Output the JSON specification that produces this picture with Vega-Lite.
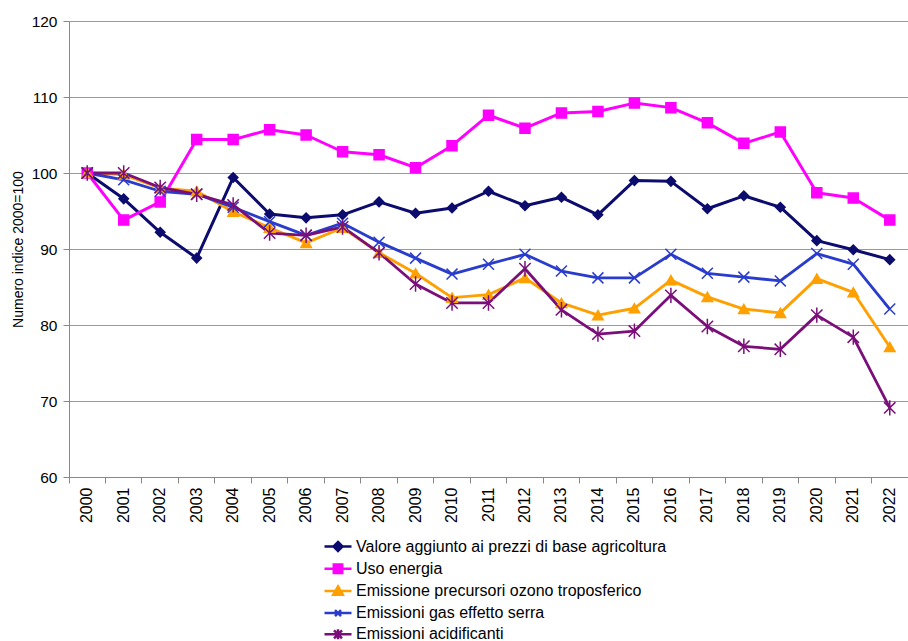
{
  "$schema": "https://vega.github.io/schema/vega-lite/v6.json",
  "width": 839,
  "height": 456,
  "autosize": {"type": "none"},
  "padding": {"left": 69, "top": 21, "right": 0, "bottom": 164},
  "background": "white",
  "config": {
    "font": "Liberation Sans",
    "view": {"stroke": null},
    "axis": {"labelFont": "Liberation Sans", "titleFont": "Liberation Sans", "labelColor": "black", "titleColor": "black", "titleFontWeight": "normal"},
    "legend": {"labelFont": "Liberation Sans"}
  },
  "data": {
    "values": [
      {"anno": "2000", "Valore aggiunto ai prezzi di base agricoltura": 100, "Uso energia": 100, "Emissione precursori ozono troposferico": 100, "Emissioni gas effetto serra": 100, "Emissioni acidificanti": 100},
      {"anno": "2001", "Valore aggiunto ai prezzi di base agricoltura": 96.6, "Uso energia": 93.8, "Emissione precursori ozono troposferico": 99.8, "Emissioni gas effetto serra": 99.1, "Emissioni acidificanti": 100},
      {"anno": "2002", "Valore aggiunto ai prezzi di base agricoltura": 92.2, "Uso energia": 96.2, "Emissione precursori ozono troposferico": 98.0, "Emissioni gas effetto serra": 97.6, "Emissioni acidificanti": 98.1},
      {"anno": "2003", "Valore aggiunto ai prezzi di base agricoltura": 88.8, "Uso energia": 104.4, "Emissione precursori ozono troposferico": 97.6, "Emissioni gas effetto serra": 97.2, "Emissioni acidificanti": 97.2},
      {"anno": "2004", "Valore aggiunto ai prezzi di base agricoltura": 99.4, "Uso energia": 104.4, "Emissione precursori ozono troposferico": 94.9, "Emissioni gas effetto serra": 95.5, "Emissioni acidificanti": 95.8},
      {"anno": "2005", "Valore aggiunto ai prezzi di base agricoltura": 94.6, "Uso energia": 105.7, "Emissione precursori ozono troposferico": 92.8, "Emissioni gas effetto serra": 93.6, "Emissioni acidificanti": 92.1},
      {"anno": "2006", "Valore aggiunto ai prezzi di base agricoltura": 94.1, "Uso energia": 105.0, "Emissione precursori ozono troposferico": 90.8, "Emissioni gas effetto serra": 91.8, "Emissioni acidificanti": 91.8},
      {"anno": "2007", "Valore aggiunto ai prezzi di base agricoltura": 94.5, "Uso energia": 102.8, "Emissione precursori ozono troposferico": 92.8, "Emissioni gas effetto serra": 93.4, "Emissioni acidificanti": 92.9},
      {"anno": "2008", "Valore aggiunto ai prezzi di base agricoltura": 96.2, "Uso energia": 102.4, "Emissione precursori ozono troposferico": 89.5, "Emissioni gas effetto serra": 90.9, "Emissioni acidificanti": 89.5},
      {"anno": "2009", "Valore aggiunto ai prezzi di base agricoltura": 94.7, "Uso energia": 100.7, "Emissione precursori ozono troposferico": 86.8, "Emissioni gas effetto serra": 88.8, "Emissioni acidificanti": 85.4},
      {"anno": "2010", "Valore aggiunto ai prezzi di base agricoltura": 95.4, "Uso energia": 103.6, "Emissione precursori ozono troposferico": 83.6, "Emissioni gas effetto serra": 86.7, "Emissioni acidificanti": 82.9},
      {"anno": "2011", "Valore aggiunto ai prezzi di base agricoltura": 97.6, "Uso energia": 107.6, "Emissione precursori ozono troposferico": 84.0, "Emissioni gas effetto serra": 88.0, "Emissioni acidificanti": 82.9},
      {"anno": "2012", "Valore aggiunto ai prezzi di base agricoltura": 95.7, "Uso energia": 105.9, "Emissione precursori ozono troposferico": 86.2, "Emissioni gas effetto serra": 89.3, "Emissioni acidificanti": 87.4},
      {"anno": "2013", "Valore aggiunto ai prezzi di base agricoltura": 96.8, "Uso energia": 107.9, "Emissione precursori ozono troposferico": 82.9, "Emissioni gas effetto serra": 87.1, "Emissioni acidificanti": 82.0},
      {"anno": "2014", "Valore aggiunto ai prezzi di base agricoltura": 94.5, "Uso energia": 108.1, "Emissione precursori ozono troposferico": 81.3, "Emissioni gas effetto serra": 86.2, "Emissioni acidificanti": 78.8},
      {"anno": "2015", "Valore aggiunto ai prezzi di base agricoltura": 99.0, "Uso energia": 109.2, "Emissione precursori ozono troposferico": 82.2, "Emissioni gas effetto serra": 86.2, "Emissioni acidificanti": 79.2},
      {"anno": "2016", "Valore aggiunto ai prezzi di base agricoltura": 98.9, "Uso energia": 108.6, "Emissione precursori ozono troposferico": 85.9, "Emissioni gas effetto serra": 89.3, "Emissioni acidificanti": 83.9},
      {"anno": "2017", "Valore aggiunto ai prezzi di base agricoltura": 95.3, "Uso energia": 106.6, "Emissione precursori ozono troposferico": 83.7, "Emissioni gas effetto serra": 86.8, "Emissioni acidificanti": 79.8},
      {"anno": "2018", "Valore aggiunto ai prezzi di base agricoltura": 97.0, "Uso energia": 103.9, "Emissione precursori ozono troposferico": 82.1, "Emissioni gas effetto serra": 86.3, "Emissioni acidificanti": 77.2},
      {"anno": "2019", "Valore aggiunto ai prezzi di base agricoltura": 95.5, "Uso energia": 105.4, "Emissione precursori ozono troposferico": 81.6, "Emissioni gas effetto serra": 85.8, "Emissioni acidificanti": 76.8},
      {"anno": "2020", "Valore aggiunto ai prezzi di base agricoltura": 91.1, "Uso energia": 97.4, "Emissione precursori ozono troposferico": 86.1, "Emissioni gas effetto serra": 89.4, "Emissioni acidificanti": 81.3},
      {"anno": "2021", "Valore aggiunto ai prezzi di base agricoltura": 89.9, "Uso energia": 96.7, "Emissione precursori ozono troposferico": 84.3, "Emissioni gas effetto serra": 88.0, "Emissioni acidificanti": 78.4},
      {"anno": "2022", "Valore aggiunto ai prezzi di base agricoltura": 88.6, "Uso energia": 93.8, "Emissione precursori ozono troposferico": 77.1, "Emissioni gas effetto serra": 82.1, "Emissioni acidificanti": 69.1}
    ]
  },
  "transform": [
    {"fold": ["Valore aggiunto ai prezzi di base agricoltura", "Uso energia", "Emissione precursori ozono troposferico", "Emissioni gas effetto serra", "Emissioni acidificanti"], "as": ["serie", "valore"]}
  ],
  "encoding": {
    "x": {"field": "anno", "type": "ordinal", "scale": {"type": "band", "paddingInner": 0, "paddingOuter": 0}},
    "y": {
      "field": "valore", "type": "quantitative",
      "scale": {"domain": [60, 120], "nice": false, "zero": false},
      "axis": {"values": [60, 70, 80, 90, 100, 110, 120], "title": "Numero indice 2000=100", "titleFontSize": 14, "titlePadding": 6, "labelFontSize": 15.5, "labelPadding": 6, "tickSize": 6, "tickColor": "#888", "domainColor": "#888", "gridColor": "#999", "gridWidth": 1.2, "grid": true}
    }
  },
  "layer": [
    {
      "mark": {"type": "line", "strokeJoin": "round"},
      "encoding": {
        "x": {"field": "anno", "type": "ordinal", "axis": {"orient": "bottom", "title": null, "labelAngle": -90, "labelFontSize": 16, "labelPadding": 10, "ticks": false, "domain": true, "domainColor": "#888", "grid": false}},
        "color": {
          "field": "serie", "type": "nominal", "sort": null,
          "scale": {"range": ["#0c0c6e", "#ff00ff", "#ffa000", "#2a3ccc", "#7a0f7a"]},
          "legend": {
            "title": null, "orient": "none", "legendX": 257.5, "legendY": 514, "symbolType": "stroke", "symbolSize": 400, "symbolStrokeWidth": 2.5, "labelFontSize": 16, "labelColor": "black", "labelLimit": 600, "labelOffset": 6.5, "rowPadding": 1.2, "padding": 0,
            "encode": {
              "symbols": {
                "update": {
                  "shape": {"signal": "datum.value === 'Valore aggiunto ai prezzi di base agricoltura' ? 'M-1.35,0L1.35,0M0,-0.45L0.45,0L0,0.45L-0.45,0Z' : datum.value === 'Uso energia' ? 'M-1.35,0L1.35,0M-0.42,-0.42L0.42,-0.42L0.42,0.42L-0.42,0.42Z' : datum.value === 'Emissione precursori ozono troposferico' ? 'M-1.35,0L1.35,0M0,-0.45L0.48,0.38L-0.48,0.38Z' : datum.value === 'Emissioni gas effetto serra' ? 'M-1.35,0L1.35,0M-0.3,-0.3L0.3,0.3M-0.3,0.3L0.3,-0.3' : 'M-1.35,0L1.35,0M-0.4,-0.4L0.4,0.4M-0.4,0.4L0.4,-0.4M0,-0.5L0,0.5'"},
                  "fill": {"signal": "datum.value === 'Emissioni gas effetto serra' || datum.value === 'Emissioni acidificanti' ? 'transparent' : scale('color', datum.value)"}
                }
              }
            }
          }
        },
        "strokeWidth": {
          "field": "serie", "type": "nominal",
          "scale": {"domain": ["Valore aggiunto ai prezzi di base agricoltura", "Uso energia", "Emissione precursori ozono troposferico", "Emissioni gas effetto serra", "Emissioni acidificanti"], "range": [3, 2.8, 3.5, 1.4, 3]},
          "legend": null
        }
      }
    },
    {
      "mark": {"type": "point", "filled": false, "strokeWidth": 1.5, "opacity": 1},
      "encoding": {
        "x": {"field": "anno", "type": "ordinal", "axis": {"orient": "bottom", "title": null, "labels": false, "ticks": true, "tickSize": 6, "tickColor": "#888", "bandPosition": 0, "domain": false, "grid": false}},
        "fill": {
          "field": "serie", "type": "nominal",
          "scale": {"domain": ["Valore aggiunto ai prezzi di base agricoltura", "Uso energia", "Emissione precursori ozono troposferico", "Emissioni gas effetto serra", "Emissioni acidificanti"], "range": ["#0c0c6e", "#ff00ff", "#ffa000", "transparent", "transparent"]},
          "legend": null
        },
        "stroke": {
          "field": "serie", "type": "nominal",
          "scale": {"domain": ["Valore aggiunto ai prezzi di base agricoltura", "Uso energia", "Emissione precursori ozono troposferico", "Emissioni gas effetto serra", "Emissioni acidificanti"], "range": ["#0c0c6e", "#ff00ff", "#ffa000", "#2a3ccc", "#7a0f7a"]},
          "legend": null
        },
        "shape": {
          "field": "serie", "type": "nominal",
          "scale": {"domain": ["Valore aggiunto ai prezzi di base agricoltura", "Uso energia", "Emissione precursori ozono troposferico", "Emissioni gas effetto serra", "Emissioni acidificanti"], "range": ["diamond", "square", "triangle-up", "M-1,-1L1,1M-1,1L1,-1", "M-1,-1L1,1M-1,1L1,-1M0,-1.35L0,1.35"]},
          "legend": null
        },
        "size": {
          "field": "serie", "type": "nominal",
          "scale": {"domain": ["Valore aggiunto ai prezzi di base agricoltura", "Uso energia", "Emissione precursori ozono troposferico", "Emissioni gas effetto serra", "Emissioni acidificanti"], "range": [90, 130, 110, 50, 90]},
          "legend": null
        }
      }
    }
  ],
  "resolve": {"axis": {"x": "independent"}}
}
